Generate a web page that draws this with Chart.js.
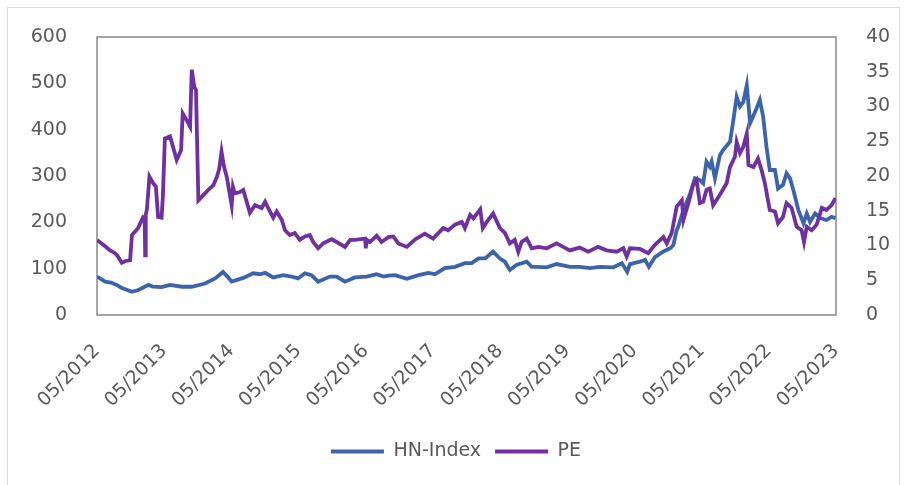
<!DOCTYPE html>
<html>
<head>
<meta charset="utf-8">
<script src="https://cdn.jsdelivr.net/npm/chart.js@4.4.1/dist/chart.umd.min.js"></script>
<style>
  html, body { margin: 0; padding: 0; background: #fff; }
  #wrap { position: relative; width: 912px; height: 485px; overflow: hidden; }
  #frame { position: absolute; left: 7px; top: 7px; width: 893px; height: 490px; border: 1px solid #d9d9d9; box-sizing: border-box; }
  #chart { position: absolute; left: 0; top: 0; }
</style>
</head>
<body>
<div id="wrap">
  <div id="frame"></div>
  <canvas id="chart" width="912" height="485"></canvas>
</div>
<script>
const seriesNames = ["HN-Index", "PE"];
const tickYears = [2012, 2013, 2014, 2015, 2016, 2017, 2018, 2019, 2020, 2021, 2022, 2023];

const hnDates = [
  "2012-05-01","2012-06-14","2012-07-16","2012-08-16","2012-09-13","2012-11-07","2012-12-12","2013-02-05",
  "2013-03-02","2013-04-17","2013-06-02","2013-08-05","2013-09-28","2013-12-09","2014-02-02","2014-03-17",
  "2014-04-12","2014-05-03","2014-07-05","2014-08-28","2014-10-04","2014-11-01","2014-12-15","2015-02-08",
  "2015-03-24","2015-04-29","2015-06-05","2015-07-11","2015-08-16","2015-10-19","2015-11-25","2016-01-09",
  "2016-03-03","2016-05-06","2016-06-29","2016-08-05","2016-09-01","2016-10-07","2016-12-10","2017-02-12",
  "2017-04-06","2017-05-12","2017-07-05","2017-08-29","2017-10-22","2017-11-28","2018-01-04","2018-02-09",
  "2018-03-24","2018-04-30","2018-05-27","2018-06-23","2018-07-29","2018-09-23","2018-10-20","2018-11-16",
  "2019-01-10","2019-03-04","2019-05-15","2019-07-08","2019-09-02","2019-10-25","2020-01-07","2020-02-22",
  "2020-03-22","2020-04-06","2020-05-30","2020-06-27","2020-07-18","2020-08-20","2020-10-05","2020-11-11",
  "2020-11-28","2020-12-16","2020-12-24","2021-01-22","2021-02-28","2021-03-25","2021-04-21","2021-05-09",
  "2021-05-27","2021-06-14","2021-06-24","2021-07-12","2021-08-08","2021-08-25","2021-10-02","2021-10-20",
  "2021-11-07","2021-11-25","2021-12-13","2022-01-01","2022-01-19","2022-02-16","2022-03-13","2022-03-31",
  "2022-04-18","2022-05-06","2022-06-03","2022-06-20","2022-07-17","2022-08-05","2022-08-24","2022-09-11",
  "2022-10-08","2022-11-05","2022-11-23","2022-12-11","2023-01-07","2023-02-04","2023-03-10","2023-04-07",
  "2023-04-28"
];
const hnValues = [
  83, 72, 70, 65, 58, 50, 54, 65,
  61, 60, 65, 61, 61, 68, 79, 93,
  82, 72, 80, 90, 88, 91, 81, 86,
  83, 79, 90, 86, 72, 83, 83, 72,
  81, 83, 88, 83, 85, 86, 78, 86,
  91, 88, 101, 104, 112, 112, 122, 122,
  137, 122, 115, 97, 108, 115, 104, 104,
  103, 110, 104, 104, 101, 104, 103, 112,
  93, 110, 115, 119, 104, 125, 137, 144,
  151, 183, 190, 227, 263, 295, 291, 284,
  331, 320, 331, 295, 345, 356, 374, 421,
  471, 450, 460, 496, 414, 439, 464, 428,
  363, 313, 313, 273, 281, 306, 295, 270,
  227, 198, 219, 201, 219, 209, 205, 212,
  209
];

const peDates = [
  "2012-05-01","2012-06-14","2012-07-11","2012-08-02","2012-08-18","2012-09-13","2012-10-06","2012-10-28",
  "2012-11-07","2012-12-10","2013-01-07","2013-01-15","2013-01-18","2013-01-21","2013-01-27","2013-02-10",
  "2013-03-01","2013-03-17","2013-03-29","2013-04-17","2013-04-24","2013-05-05","2013-06-02","2013-06-18",
  "2013-07-08","2013-08-01","2013-08-10","2013-09-01","2013-09-19","2013-09-28","2013-10-12","2013-10-21",
  "2013-11-03","2013-12-27","2014-01-24","2014-02-12","2014-02-24","2014-03-09","2014-03-21","2014-04-06",
  "2014-05-03","2014-05-10","2014-05-20","2014-06-17","2014-07-05","2014-08-10","2014-09-07","2014-10-13",
  "2014-11-01","2014-11-17","2014-12-15","2015-01-03","2015-01-30","2015-02-17","2015-03-15","2015-04-11",
  "2015-05-08","2015-06-05","2015-07-02","2015-07-20","2015-08-16","2015-09-13","2015-10-28","2015-11-25",
  "2016-01-09","2016-02-06","2016-03-03","2016-04-27","2016-05-01","2016-05-07","2016-05-23","2016-06-29",
  "2016-07-26","2016-09-01","2016-09-28","2016-10-25","2016-12-10","2017-01-25","2017-03-18","2017-05-02",
  "2017-06-26","2017-07-23","2017-08-29","2017-10-05","2017-10-22","2017-11-19","2017-12-07","2018-01-13",
  "2018-01-27","2018-02-18","2018-03-24","2018-04-30","2018-05-27","2018-06-23","2018-07-20","2018-08-08",
  "2018-08-26","2018-09-23","2018-10-20","2018-11-25","2019-01-10","2019-03-04","2019-04-09","2019-05-15",
  "2019-07-08","2019-08-23","2019-10-16","2019-12-01","2020-01-25","2020-03-01","2020-03-19","2020-04-06",
  "2020-05-30","2020-07-14","2020-08-20","2020-10-05","2020-10-23","2020-11-19","2020-12-16","2021-01-13",
  "2021-01-22","2021-02-18","2021-03-15","2021-04-03","2021-04-21","2021-05-09","2021-05-27","2021-06-14",
  "2021-07-02","2021-08-08","2021-09-14","2021-10-02","2021-10-29","2021-11-07","2021-11-25","2021-12-13",
  "2022-01-01","2022-01-10","2022-02-06","2022-03-03","2022-03-22","2022-04-09","2022-05-06","2022-06-03",
  "2022-06-20","2022-07-17","2022-08-05","2022-09-02","2022-09-29","2022-10-26","2022-11-08","2022-11-23",
  "2022-12-20","2023-01-16","2023-02-13","2023-03-10","2023-04-07","2023-04-28"
];
const peValues = [
  10.8, 9.9, 9.3, 9.0, 8.6, 7.5, 7.8, 7.9,
  11.5, 12.5, 14.1, 14.0, 8.6, 14.5, 15.1, 19.9,
  19.0, 18.5, 14.1, 14.0, 17.0, 25.4, 25.7, 24.2,
  22.3, 23.7, 29.0, 28.0, 27.1, 35.3, 32.8, 32.4,
  16.5, 18.0, 18.7, 19.9, 21.0, 23.5, 21.5, 19.9,
  15.8, 18.4, 17.5, 17.7, 18.0, 14.7, 15.8, 15.4,
  16.3, 15.4, 14.0, 14.9, 13.7, 12.2, 11.5, 11.8,
  10.8, 11.3, 11.5, 10.5, 9.6, 10.3, 10.9, 10.5,
  9.8, 10.8, 10.8, 11.0, 9.6, 10.8, 10.5, 11.4,
  10.5, 11.2, 11.3, 10.3, 9.8, 10.9, 11.7, 11.0,
  12.5, 12.2, 13.0, 13.4, 12.5, 14.4, 13.9, 15.2,
  12.5, 13.4, 14.6, 12.5, 11.8, 10.3, 10.8, 9.1,
  10.5, 11.0, 9.6, 9.8, 9.6, 10.3, 9.8, 9.3,
  9.7, 9.1, 9.8, 9.3, 9.1, 9.6, 8.4, 9.6,
  9.5, 8.9, 10.1, 11.2, 10.3, 11.8, 15.6, 16.5,
  13.7, 16.1, 18.7, 19.4, 16.1, 16.3, 18.0, 18.2,
  15.8, 17.3, 19.0, 21.3, 22.8, 24.9, 23.3, 24.2,
  26.1, 21.6, 21.3, 22.5, 20.9, 19.0, 15.1, 14.9,
  13.2, 14.1, 16.1, 15.4, 12.7, 12.2, 10.5, 12.7,
  12.2, 13.0, 15.4, 15.1, 15.8, 16.8
];

const toTime = s => Date.parse(s + "T00:00:00Z");
const toPoints = (dates, values) => dates.map((d, i) => ({ x: toTime(d), y: values[i] }));
const yearTick = y => Date.UTC(y, 4, 1);

const textColor = "#595959";
const font = { family: "'DejaVu Sans', Verdana, sans-serif", size: 19 };

const plotFrame = {
  id: "plotFrame",
  beforeDatasetsDraw(chart) {
    const a = chart.chartArea;
    const ctx = chart.ctx;
    ctx.save();
    ctx.strokeStyle = "#898989";
    ctx.lineWidth = 1.5;
    ctx.strokeRect(a.left, a.top, a.right - a.left, a.bottom - a.top);
    ctx.restore();
  }
};

new Chart(document.getElementById("chart").getContext("2d"), {
  type: "line",
  data: {
    datasets: [
      { label: seriesNames[0], data: toPoints(hnDates, hnValues), yAxisID: "y", borderColor: "#3b64ad", backgroundColor: "#3b64ad", borderWidth: 3.8, pointRadius: 0, tension: 0, order: 0 },
      { label: seriesNames[1], data: toPoints(peDates, peValues), yAxisID: "y1", borderColor: "#7030a0", backgroundColor: "#7030a0", borderWidth: 3.8, pointRadius: 0, tension: 0, order: -1 }
    ]
  },
  options: {
    responsive: false,
    animation: false,
    layout: { padding: { top: 37, bottom: 14, left: 0, right: 0 } },
    plugins: {
      tooltip: { enabled: false },
      legend: {
        position: "bottom",
        labels: {
          font: font,
          color: textColor,
          boxWidth: 53,
          boxHeight: 4,
          padding: 14,
          sort: (a, b) => a.datasetIndex - b.datasetIndex,
          generateLabels: chart => Chart.defaults.plugins.legend.labels.generateLabels(chart).map(item => {
            item.lineWidth = 0;
            item.fillStyle = item.strokeStyle;
            return item;
          })
        }
      }
    },
    scales: {
      x: {
        type: "linear",
        min: yearTick(tickYears[0]),
        max: yearTick(tickYears[tickYears.length - 1]),
        afterBuildTicks: scale => { scale.ticks = tickYears.map(y => ({ value: yearTick(y) })); },
        afterFit: scale => { scale.height = 113; },
        grid: { display: false },
        border: { display: false },
        ticks: {
          autoSkip: false,
          maxRotation: 45,
          minRotation: 45,
          padding: 17,
          font: font,
          color: textColor,
          callback: v => "05/" + new Date(v).getUTCFullYear()
        }
      },
      y: {
        position: "left",
        min: 0, max: 600,
        afterFit: scale => { scale.width = 97; },
        grid: { display: false },
        border: { display: false },
        ticks: { stepSize: 100, padding: 22, font: font, color: textColor }
      },
      y1: {
        position: "right",
        min: 0, max: 40,
        afterFit: scale => { scale.width = 76; },
        grid: { display: false },
        border: { display: false },
        ticks: { stepSize: 5, padding: 22, font: font, color: textColor }
      }
    }
  },
  plugins: [plotFrame]
});
</script>
</body>
</html>
